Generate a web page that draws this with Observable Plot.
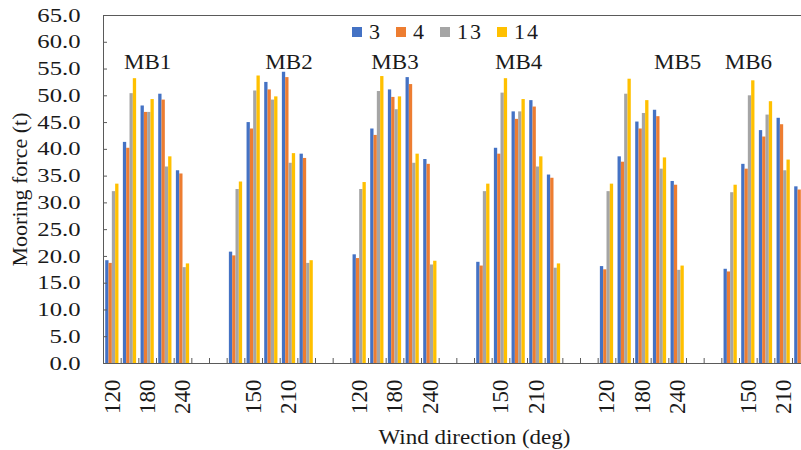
<!DOCTYPE html>
<html>
<head>
<meta charset="utf-8">
<script src="https://cdn.jsdelivr.net/npm/d3@7"></script>
<script src="https://cdn.jsdelivr.net/npm/@observablehq/plot@0.6"></script>
<style>
  html, body { margin: 0; padding: 0; background: #fff; overflow: hidden; width: 801px; height: 450px; }
  #chart { position: relative; width: 845px; height: 450px; }
  #chart svg { font-family: "Liberation Serif", "Times New Roman", serif; }
  g[aria-label="y-axis tick label"] text { font-size: 19px; }
  g[aria-label="x-axis tick label"] text { font-size: 23px; }
  g[aria-label="y-axis label"] text { font-size: 22px; }
  g[aria-label="x-axis label"] text { font-size: 20px; }
  g[aria-label="text"] text { font-size: 20px; }
  .lgd-swatches, .lgd-swatches-wrap { font-family: "Liberation Serif", "Times New Roman", serif !important; font-size: 22px !important; color: #1a1a1a !important; margin: 0 !important; min-height: 0 !important; line-height: 22px !important; }
  .lgd-swatch { margin-right: 14px !important; letter-spacing: 2px; }
  .lgd-swatch svg { margin-right: 7px !important; }
</style>
</head>
<body>
<div id="chart"></div>
<script>
// Mooring groups and the wind directions tested for each one
const groups = ["MB1", "MB2", "MB3", "MB4", "MB5", "MB6"];
const directions = [120, 150, 180, 210, 240];
// Load cases (legend entries) and their fills
const seriesNames = ["3", "4", "13", "14"];
const seriesColors = ["#4472C4", "#ED7D31", "#A5A5A5", "#FFC000"];

// Mooring force (t), 5 directions per group, groups MB1..MB6 in order
const force3 = [
  19.2, 41.3, 48.1, 50.3, 36.0,
  20.8, 45.0, 52.5, 54.4, 39.1,
  20.3, 43.8, 51.1, 53.4, 38.1,
  18.9, 40.2, 47.0, 49.1, 35.2,
  18.1, 38.6, 45.1, 47.3, 34.0,
  17.6, 37.2, 43.5, 45.8, 33.0
];
const force4 = [
  18.7, 40.2, 46.9, 49.2, 35.4,
  20.1, 43.8, 51.1, 53.4, 38.3,
  19.6, 42.6, 49.7, 52.1, 37.2,
  18.2, 39.1, 45.6, 47.9, 34.6,
  17.5, 37.6, 43.8, 46.1, 33.3,
  17.1, 36.3, 42.3, 44.6, 32.4
];
const force13 = [
  32.1, 50.4, 46.9, 36.7, 17.9,
  32.5, 50.9, 49.2, 37.4, 18.7,
  32.5, 50.8, 47.4, 37.4, 18.4,
  32.1, 50.5, 47.0, 36.7, 17.8,
  32.1, 50.3, 46.7, 36.3, 17.4,
  31.9, 50.0, 46.4, 36.0, 17.2
];
const force14 = [
  33.5, 53.2, 49.3, 38.6, 18.6,
  33.9, 53.7, 49.8, 39.2, 19.2,
  33.8, 53.6, 49.8, 39.1, 19.1,
  33.5, 53.2, 49.3, 38.6, 18.6,
  33.5, 53.1, 49.1, 38.4, 18.2,
  33.3, 52.8, 48.9, 38.0, 18.0
];
// Y axis tick values
const yTicks = [0, 5, 10, 15, 20, 25, 30, 35, 40, 45, 50, 55, 60, 65];
// Direction above which each group name is written
const groupLabelAt = [180, 210, 180, 180, 240, 150];

// Category axis: 5 directions per group followed by two empty slots
const key = (g, d) => `${g}|${d}`;
const cats = [];
const dirOf = {};
for (const g of groups) {
  for (const d of directions) { cats.push(key(g, d)); dirOf[key(g, d)] = String(d); }
  cats.push(key(g, "gap1"), key(g, "gap2"));
}
// Every second category carries a label
const labelCats = cats.filter((c, i) => i % 2 === 0 && dirOf[c]);

const seriesValues = [force3, force4, force13, force14];
const rows = [];
groups.forEach((g, gi) => directions.forEach((d, di) => seriesNames.forEach((s, si) => {
  rows.push({cat: key(g, d), series: s, value: seriesValues[si][gi * directions.length + di]});
})));

const width = 845, marginLeft = 103, marginRight = 0;
const step = (width - marginLeft - marginRight) / cats.length;
const paddingInner = 0.25;
const sub = step * (1 - paddingInner) / seriesNames.length;

const chart = Plot.plot({
  width, height: 450,
  marginLeft, marginRight, marginTop: 15, marginBottom: 87,
  style: {fontFamily: '"Liberation Serif", "Times New Roman", serif', color: "#1a1a1a", background: "transparent"},
  x: {domain: cats, paddingInner, paddingOuter: paddingInner / 2, round: false},
  y: {domain: [0, 65]},
  color: {domain: seriesNames, range: seriesColors},
  marks: [
    ...seriesNames.map((s, i) => Plot.barY(rows.filter(r => r.series === s), {
      x: "cat", y: "value", fill: "series",
      insetLeft: i * sub, insetRight: (seriesNames.length - 1 - i) * sub
    })),
    Plot.frame({stroke: "#5a5a5a"}),
    Plot.axisY(yTicks, {
      tickSize: 0, tickPadding: 23, tickFormat: d3.format(".1f"),
      label: "Mooring force (t)", labelAnchor: "center", labelArrow: "none", labelOffset: 92
    }),
    Plot.axisY(yTicks, {tickSize: 4, dx: 4, fill: "none", stroke: "#5a5a5a"}),
    Plot.axisX(labelCats, {
      tickSize: 0, tickRotate: -90, tickPadding: 16, tickFormat: d => dirOf[d],
      label: "Wind direction (deg)", labelAnchor: "center", labelArrow: "none", labelOffset: 80
    }),
    Plot.axisX(cats, {tickSize: 5, dy: -5, dx: -step / 2, fill: "none", stroke: "#5a5a5a"}),
    Plot.text(groups, {
      x: (g, i) => key(g, groupLabelAt[i]), text: d => d,
      frameAnchor: "top", dy: 53, lineAnchor: "bottom", fill: "#1a1a1a"
    })
  ]
});

const host = document.getElementById("chart");
host.appendChild(chart);

// Wide serif lettering
function widen(selector, k) {
  chart.querySelectorAll(selector).forEach(t => {
    const w = t.getComputedTextLength();
    t.setAttribute("textLength", (w * k).toFixed(1));
    t.setAttribute("lengthAdjust", "spacingAndGlyphs");
  });
}
widen('g[aria-label="y-axis tick label"] text', 1.3);
widen('g[aria-label="text"] text', 1.15);
widen('g[aria-label="x-axis label"] text', 1.15);

const legend = chart.legend("color", {swatchSize: 10, className: "lgd"});
legend.style.position = "absolute";
legend.style.left = "352px";
legend.style.top = "21px";
host.appendChild(legend);
</script>
</body>
</html>
